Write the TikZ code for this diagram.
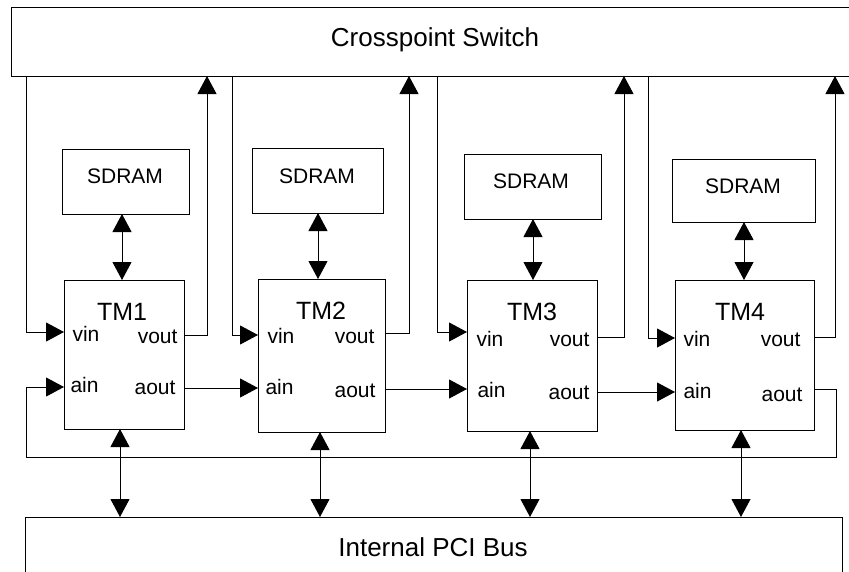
\documentclass[tikz,border=0pt]{standalone}
\usepackage{fontspec}
\setmainfont{Liberation Sans}
\usetikzlibrary{arrows.meta}
\begin{document}
\begin{tikzpicture}[x=1pt,y=-1pt,line width=1pt,
  box/.style={draw,rectangle,anchor=north west,inner sep=0pt,outer sep=0pt},
  big/.style={font=\fontsize{26}{30}\selectfont,anchor=base,inner sep=0pt},
  title/.style={font=\fontsize{25}{29}\selectfont,anchor=base,inner sep=0pt},
  mid/.style={font=\fontsize{21}{25}\selectfont,anchor=base,inner sep=0pt},
  lft/.style={font=\fontsize{21}{25}\selectfont,anchor=base west,inner sep=0pt},
  rgt/.style={font=\fontsize{21}{25}\selectfont,anchor=base east,inner sep=0pt},
  arr/.style={-{Triangle[length=18pt,width=19pt]}},
  darr/.style={{Triangle[length=18pt,width=19pt]}-{Triangle[length=18pt,width=19pt]}}]
\useasboundingbox (0,0) rectangle (849,571);
% boxes
\node[box,minimum width=849pt,minimum height=69pt] (cs) at (11,7) {};
\node[box,minimum width=817pt,minimum height=70pt] (pci) at (25,517) {};
\node[box,minimum width=120pt,minimum height=149pt] (tm1) at (64,280) {};
\node[box,minimum width=127pt,minimum height=153pt] (tm2) at (258,279) {};
\node[box,minimum width=130pt,minimum height=151pt] (tm3) at (467,280) {};
\node[box,minimum width=139pt,minimum height=150pt] (tm4) at (675,280) {};
\node[box,minimum width=127pt,minimum height=65pt] (sd1) at (62,149) {};
\node[box,minimum width=131pt,minimum height=65pt] (sd2) at (252,148) {};
\node[box,minimum width=137pt,minimum height=65pt] (sd3) at (464,154) {};
\node[box,minimum width=143pt,minimum height=63pt] (sd4) at (672,159) {};
% texts
\node[big] (cst) at (435,46) {Crosspoint Switch};
\node[big] (pcit) at (433,556) {Internal PCI Bus};
\node[mid] (sd1t) at (125,183) {SDRAM};
\node[mid] (sd2t) at (317,183) {SDRAM};
\node[mid] (sd3t) at (531,188) {SDRAM};
\node[mid] (sd4t) at (743,193) {SDRAM};
\node[title] (tm1t) at (122,320) {TM1};
\node[title] (tm2t) at (321,319) {TM2};
\node[title] (tm3t) at (532,320) {TM3};
\node[title] (tm4t) at (740,320) {TM4};
\node[lft] (vin1) at (72,341) {vin};
\node[rgt] (vout1) at (178,343) {vout};
\node[lft] (ain1) at (70,392) {ain};
\node[rgt] (aout1) at (176,394) {aout};
\node[lft] (vin2) at (267,343) {vin};
\node[rgt] (vout2) at (375,343) {vout};
\node[lft] (ain2) at (265,394) {ain};
\node[rgt] (aout2) at (376,397) {aout};
\node[lft] (vin3) at (476,346) {vin};
\node[rgt] (vout3) at (590,346) {vout};
\node[lft] (ain3) at (477,397) {ain};
\node[rgt] (aout3) at (590,399) {aout};
\node[lft] (vin4) at (683,346) {vin};
\node[rgt] (vout4) at (801,346) {vout};
\node[lft] (ain4) at (683,398) {ain};
\node[rgt] (aout4) at (803,401) {aout};
% video in from crosspoint
\draw[arr] (cs.south -| 26,0) |- (tm1.west |- 0,332);
\draw[arr] (cs.south -| 232,0) |- (tm2.west |- 0,335);
\draw[arr] (cs.south -| 437,0) |- (tm3.west |- 0,332);
\draw[arr] (cs.south -| 648,0) |- (tm4.west |- 0,338);
% video out to crosspoint
\draw[arr] (tm1.east |- 0,335) -| (cs.south -| 207,0);
\draw[arr] (tm2.east |- 0,333) -| (cs.south -| 409,0);
\draw[arr] (tm3.east |- 0,337) -| (cs.south -| 624,0);
\draw[arr] (tm4.east |- 0,337) -| (cs.south -| 835,0);
% audio chain
\draw[arr] (tm1.east |- 0,388) -- (tm2.west |- 0,388);
\draw[arr] (tm2.east |- 0,389) -- (tm3.west |- 0,389);
\draw[arr] (tm3.east |- 0,392) -- (tm4.west |- 0,392);
\coordinate (fbr) at (836,389);
\coordinate (fbl) at (26,457);
\draw[arr] (tm4.east |- 0,389) -- (fbr) |- (fbl) |- (tm1.west |- 0,387);
% SDRAM links
\draw[darr] (sd1.south -| 122,0) -- (tm1.north -| 122,0);
\draw[darr] (sd2.south -| 318,0) -- (tm2.north -| 318,0);
\draw[darr] (sd3.south -| 533,0) -- (tm3.north -| 533,0);
\draw[darr] (sd4.south -| 744,0) -- (tm4.north -| 744,0);
% PCI links
\draw[darr] (tm1.south -| 120,0) -- (pci.north -| 120,0);
\draw[darr] (tm2.south -| 320,0) -- (pci.north -| 320,0);
\draw[darr] (tm3.south -| 530,0) -- (pci.north -| 530,0);
\draw[darr] (tm4.south -| 741,0) -- (pci.north -| 741,0);
\end{tikzpicture}
\end{document}
